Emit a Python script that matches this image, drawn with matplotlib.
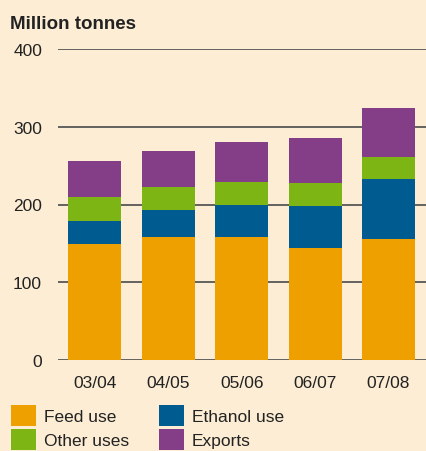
import matplotlib
matplotlib.use("Agg")
import matplotlib.pyplot as plt
import numpy as np

plt.rcParams['font.family'] = ['Liberation Sans', 'DejaVu Sans']

# data (million tonnes)
seasons = ["03/04", "04/05", "05/06", "06/07", "07/08"]
feed_use = [149, 158, 158, 144, 156]
ethanol_use = [30, 35, 41, 54, 77]
other_uses = [31, 30, 30, 30, 28]
exports = [46, 46, 51, 57, 63]
y_ticks = [0, 100, 200, 300, 400]

bg = "#FCEDD4"
c_feed = "#EDA000"
c_eth = "#005B90"
c_other = "#7DB614"
c_exp = "#843D87"

fig = plt.figure(figsize=(4.26, 4.52), dpi=100, facecolor=bg)
ax = fig.add_axes([58/426, 91/452, 368/426, 311/452])
ax.set_facecolor(bg)

x = np.arange(len(seasons))
w = 0.72
b1 = np.array(feed_use)
b2 = b1 + np.array(ethanol_use)
b3 = b2 + np.array(other_uses)

for t in y_ticks:
    ax.axhline(t, color="#4a4a4a", lw=1.2, zorder=1)

h_feed = ax.bar(x, feed_use, w, color=c_feed, zorder=2, label="Feed use")
h_eth = ax.bar(x, ethanol_use, w, bottom=b1, color=c_eth, zorder=2, label="Ethanol use")
h_other = ax.bar(x, other_uses, w, bottom=b2, color=c_other, zorder=2, label="Other uses")
h_exp = ax.bar(x, exports, w, bottom=b3, color=c_exp, zorder=2, label="Exports")

ax.set_xlim(-0.5, 4.51)
ax.set_ylim(0, 400)
ax.set_xticks(x)
ax.set_xticklabels(seasons)
ax.set_yticks(y_ticks)
ax.tick_params(axis="both", length=0, labelsize=12.5, colors="#222222")
ax.tick_params(axis="y", pad=11.5)
ax.tick_params(axis="x", pad=11)
for s in ax.spines.values():
    s.set_visible(False)

fig.text(10/426, 1 - 29/452, "Million tonnes", fontsize=13.5, fontweight="bold",
         color="#222222", va="baseline", ha="left")

leg = fig.legend([h_feed, h_other, h_eth, h_exp],
                 ["Feed use", "Other uses", "Ethanol use", "Exports"],
                 ncol=2, loc="upper left", bbox_to_anchor=(11/426, 1 - 406/452),
                 frameon=False, fontsize=12.5, handlelength=1.45, handleheight=1.45,
                 handletextpad=0.45, columnspacing=1.7, labelspacing=0.2,
                 borderaxespad=0, borderpad=0, labelcolor="#222222")

fig.savefig("out.png", dpi=100, facecolor=bg)
